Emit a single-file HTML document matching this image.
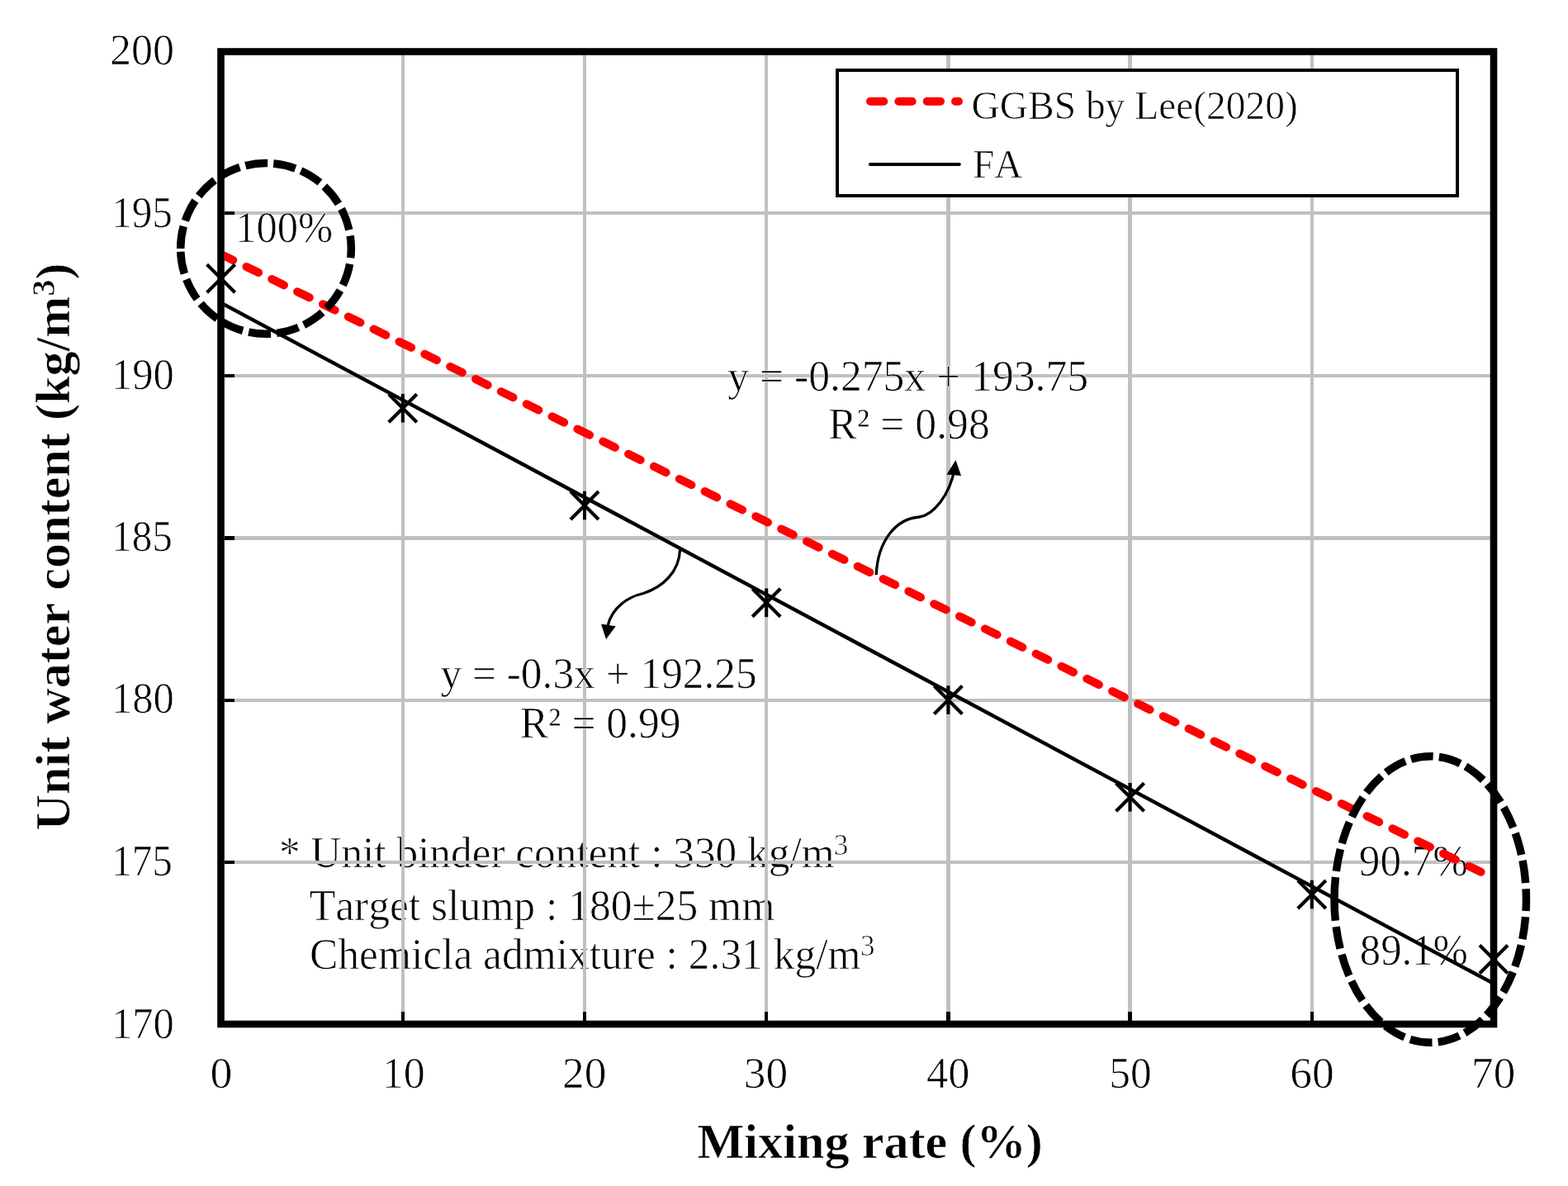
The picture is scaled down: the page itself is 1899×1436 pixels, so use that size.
<!DOCTYPE html><html><head><meta charset="utf-8"><title>Unit water content vs Mixing rate</title>
<style>html,body{margin:0;padding:0;background:#fff;overflow:hidden;}svg{display:block;}text{font-family:"Liberation Serif","Times New Roman",serif;font-kerning:none;stroke:#fff;stroke-width:0.7px;}</style></head><body>
<svg width="1899" height="1436" viewBox="0 0 1899 1436">
<rect x="0" y="0" width="1899" height="1436" fill="#fff"/>
<g fill="#000">
<text x="337.89" y="1050.20" font-size="52" textLength="672.69" lengthAdjust="spacingAndGlyphs">* Unit binder content : 330 kg/m</text>
<text x="1009.79" y="1034.50" font-size="35" textLength="17.63" lengthAdjust="spacingAndGlyphs">3</text>
<text x="374.71" y="1114.00" font-size="52" textLength="563.59" lengthAdjust="spacingAndGlyphs">Target slump : 180±25 mm</text>
<text x="375.02" y="1173.00" font-size="52" textLength="667.51" lengthAdjust="spacingAndGlyphs">Chemicla admixture : 2.31 kg/m</text>
<text x="1041.90" y="1156.60" font-size="35" textLength="17.50" lengthAdjust="spacingAndGlyphs">3</text>
</g>
<g fill="#c0c0c0">
<rect x="486" y="67" width="4" height="1158"/>
<rect x="706" y="67" width="4" height="1158"/>
<rect x="926" y="67" width="4" height="1158"/>
<rect x="1146" y="67" width="5" height="1158"/>
<rect x="1366" y="67" width="5" height="1158"/>
<rect x="1587" y="67" width="4" height="1158"/>
<rect x="272" y="256" width="1533" height="4"/>
<rect x="272" y="453" width="1533" height="4"/>
<rect x="272" y="649" width="1533" height="5"/>
<rect x="272" y="846" width="1533" height="4"/>
<rect x="272" y="1042" width="1533" height="4"/>
</g>
<g fill="#000">
<rect x="486" y="1225" width="4" height="11"/>
<rect x="706" y="1225" width="4" height="11"/>
<rect x="926" y="1225" width="4" height="11"/>
<rect x="1146" y="1225" width="5" height="11"/>
<rect x="1366" y="1225" width="5" height="11"/>
<rect x="1587" y="1225" width="4" height="11"/>
<rect x="272" y="256" width="12" height="4"/>
<rect x="272" y="453" width="12" height="4"/>
<rect x="272" y="649" width="12" height="5"/>
<rect x="272" y="846" width="12" height="4"/>
<rect x="272" y="1042" width="12" height="4"/>
</g>
<g fill="#000">
<text x="881.21" y="473.40" font-size="52" textLength="436.95" lengthAdjust="spacingAndGlyphs">y = -0.275x + 193.75</text>
<text x="1003.31" y="531.20" font-size="52" textLength="195.48" lengthAdjust="spacingAndGlyphs">R² = 0.98</text>
<text x="533.41" y="833.10" font-size="52" textLength="383.33" lengthAdjust="spacingAndGlyphs">y = -0.3x + 192.25</text>
<text x="629.72" y="892.80" font-size="52" textLength="194.77" lengthAdjust="spacingAndGlyphs">R² = 0.99</text>
<text x="285.24" y="293.00" font-size="52" textLength="117.95" lengthAdjust="spacingAndGlyphs">100%</text>
<text x="1645.83" y="1059.60" font-size="52" textLength="132.07" lengthAdjust="spacingAndGlyphs">90.7%</text>
<text x="1646.75" y="1168.30" font-size="52" textLength="131.15" lengthAdjust="spacingAndGlyphs">89.1%</text>
</g>
<defs><clipPath id="pa"><rect x="272" y="67" width="1533" height="1169"/></clipPath></defs>
<g clip-path="url(#pa)">
<line x1="267.60" y1="366.69" x2="1809.00" y2="1190.94" stroke="#000" stroke-width="4.5"/>
<line x1="267.60" y1="307.81" x2="1809.00" y2="1063.38" stroke="#ff0000" stroke-width="10" stroke-dasharray="16.3 18.05" stroke-linecap="round"/>
</g>
<g stroke="#000" stroke-width="4.2" fill="none">
<path d="M250.60,320.25L284.60,354.25M250.60,354.25L284.60,320.25"/>
<path d="M267.60,319.95V354.55" stroke-width="4.1"/>
<path d="M470.80,477.25L504.80,511.25M470.80,511.25L504.80,477.25"/>
<path d="M487.80,476.95V511.55" stroke-width="4.1"/>
<path d="M691.00,595.00L725.00,629.00M691.00,629.00L725.00,595.00"/>
<path d="M708.00,594.70V629.30" stroke-width="4.1"/>
<path d="M911.20,712.75L945.20,746.75M911.20,746.75L945.20,712.75"/>
<path d="M928.20,712.45V747.05" stroke-width="4.1"/>
<path d="M1131.40,830.50L1165.40,864.50M1131.40,864.50L1165.40,830.50"/>
<path d="M1148.40,830.20V864.80" stroke-width="4.1"/>
<path d="M1351.60,948.25L1385.60,982.25M1351.60,982.25L1385.60,948.25"/>
<path d="M1368.60,947.95V982.55" stroke-width="4.1"/>
<path d="M1571.80,1066.00L1605.80,1100.00M1571.80,1100.00L1605.80,1066.00"/>
<path d="M1588.80,1065.70V1100.30" stroke-width="4.1"/>
<path d="M1792.00,1144.50L1826.00,1178.50M1792.00,1178.50L1826.00,1144.50"/>
<path d="M1809.00,1144.20V1178.80" stroke-width="4.1"/>
</g>
<rect x="267.5" y="62.5" width="1541.5" height="1177.5" fill="none" stroke="#000" stroke-width="8.6"/>
<g fill="none" stroke="#000" stroke-width="9.5" stroke-dasharray="27.1 7.2">
<path d="M218.70,300.90A103.3,103.3 0 0 1 322.00,197.60A103.3,103.3 0 0 1 425.30,300.90A103.3,103.3 0 0 1 322.00,404.20A103.3,103.3 0 0 1 218.70,300.90"/>
<path d="M1616.00,1089.00A116.2,173.25 0 0 1 1732.20,915.75A116.2,173.25 0 0 1 1848.40,1089.00A116.2,173.25 0 0 1 1732.20,1262.25A116.2,173.25 0 0 1 1616.00,1089.00"/>
</g>
<g fill="none" stroke="#000" stroke-width="3.3">
<path d="M1061.2,696C1063,655 1085,628 1113,626C1130,624 1150,600 1156,568"/>
<path d="M823.5,666C822.5,692 803,711 779,718.5C762,722 741,735 736,758"/>
</g>
<g fill="#000">
<path d="M1157.5,557L1146.5,574.5L1164,576Z"/>
<path d="M734,774L728,755.5L745.7,758.3Z"/>
</g>
<rect x="1014" y="85" width="751" height="152" fill="#fff" stroke="#000" stroke-width="4"/>
<line x1="1054" y1="122.8" x2="1161" y2="122.8" stroke="#ff0000" stroke-width="10" stroke-dasharray="16.3 18.05" stroke-linecap="round"/>
<line x1="1054" y1="199" x2="1161.8" y2="199" stroke="#000" stroke-width="4" stroke-linecap="round"/>
<g fill="#000">
<text x="1176.50" y="144.30" font-size="47.5" textLength="395.28" lengthAdjust="spacingAndGlyphs">GGBS by Lee(2020)</text>
<text x="1178.21" y="215.20" font-size="47.5" textLength="60.12" lengthAdjust="spacingAndGlyphs">FA</text>
</g>
<g fill="#000">
<text x="132.90" y="77.60" font-size="52" textLength="78.11" lengthAdjust="spacingAndGlyphs">200</text>
<text x="135.17" y="275.00" font-size="52" textLength="73.72" lengthAdjust="spacingAndGlyphs">195</text>
<text x="135.04" y="471.00" font-size="52" textLength="75.80" lengthAdjust="spacingAndGlyphs">190</text>
<text x="135.17" y="667.00" font-size="52" textLength="73.72" lengthAdjust="spacingAndGlyphs">185</text>
<text x="135.04" y="863.00" font-size="52" textLength="75.80" lengthAdjust="spacingAndGlyphs">180</text>
<text x="135.17" y="1060.00" font-size="52" textLength="73.72" lengthAdjust="spacingAndGlyphs">175</text>
<text x="135.04" y="1257.00" font-size="52" textLength="75.80" lengthAdjust="spacingAndGlyphs">170</text>
<text x="254.43" y="1317.00" font-size="52" textLength="26.95" lengthAdjust="spacingAndGlyphs">0</text>
<text x="462.80" y="1317.00" font-size="52" textLength="52.00" lengthAdjust="spacingAndGlyphs">10</text>
<text x="680.94" y="1317.00" font-size="52" textLength="53.52" lengthAdjust="spacingAndGlyphs">20</text>
<text x="900.72" y="1317.00" font-size="52" textLength="53.33" lengthAdjust="spacingAndGlyphs">30</text>
<text x="1121.99" y="1317.00" font-size="52" textLength="52.42" lengthAdjust="spacingAndGlyphs">40</text>
<text x="1343.23" y="1317.00" font-size="52" textLength="51.56" lengthAdjust="spacingAndGlyphs">50</text>
<text x="1562.34" y="1317.00" font-size="52" textLength="53.52" lengthAdjust="spacingAndGlyphs">60</text>
<text x="1782.14" y="1317.00" font-size="52" textLength="53.11" lengthAdjust="spacingAndGlyphs">70</text>
<text x="844.40" y="1402.10" font-size="60.2" font-weight="700" textLength="418.46" lengthAdjust="spacingAndGlyphs">Mixing rate (%)</text>
</g>
<text transform="translate(84,1005.5) rotate(-90)" font-size="60.2" font-weight="bold">Unit water content (kg/m<tspan font-size="40" dy="-18">3</tspan><tspan dy="18">)</tspan></text>
</svg></body></html>
